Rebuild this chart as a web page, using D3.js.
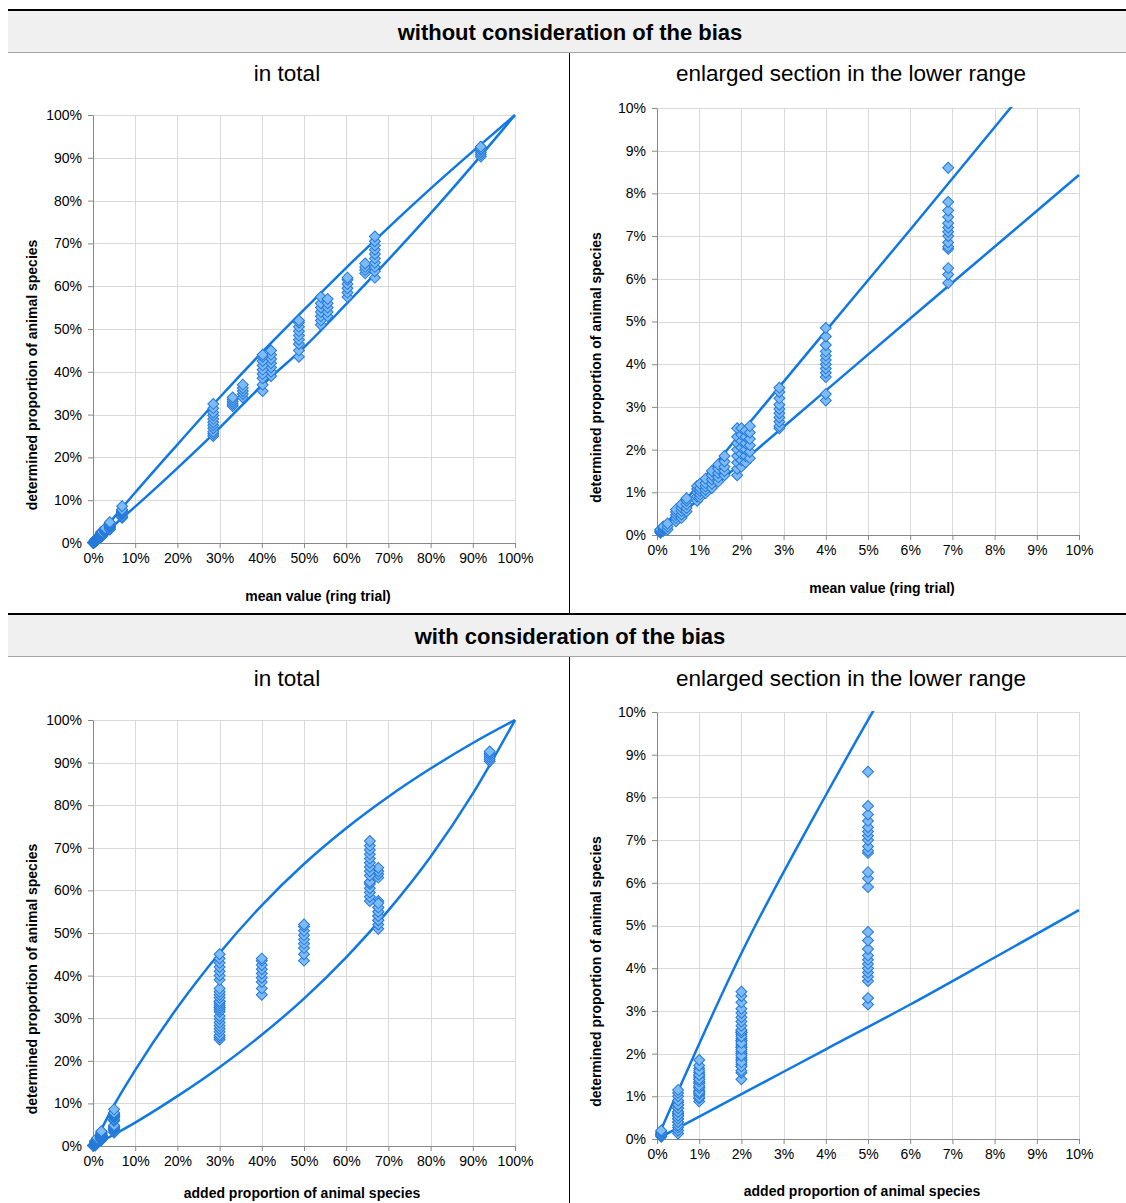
<!DOCTYPE html>
<html>
<head>
<meta charset="utf-8">
<script src="https://cdn.jsdelivr.net/npm/d3@7"></script>
<style>
  body { margin: 0; background: #fff; font-family: "Liberation Sans", Arial, sans-serif; }
  svg { display: block; }
</style>
</head>
<body>
<svg id="chart" width="1126" height="1203"></svg>
<script>
// ---------------------------
// Data (percent values)
// ---------------------------

// one entry per sample: added share, ring-trial mean, determined shares
const sampleAdded = [0.1, 0.1, 0.5, 0.5, 0.5, 0.5, 0.5, 1, 1, 1, 1, 1, 2, 2, 2, 2, 2, 5, 5,
  30, 30, 30, 30, 40, 50, 67.6, 67.6, 65.6, 67.6, 65.6, 94];
const sampleMean = [0.08, 0.15, 0.25, 0.45, 0.58, 0.7, 0.95, 1.02, 1.15, 1.3, 1.45, 1.6, 1.9, 2.0, 2.1, 2.2, 2.9, 4.0, 6.9,
  28.5, 33.1, 35.5, 42.2, 40.2, 48.8, 54.0, 55.6, 60.3, 64.5, 66.8, 91.9];
const sampleFound = [
  [0.05, 0.07, 0.09, 0.11, 0.13],
  [0.1, 0.14, 0.17, 0.2],
  [0.13, 0.2, 0.27],
  [0.32, 0.4, 0.47, 0.54, 0.6],
  [0.4, 0.48, 0.56, 0.64, 0.72],
  [0.55, 0.63, 0.72, 0.8, 0.86],
  [0.8, 0.9, 1.0, 1.08, 1.15],
  [0.88, 0.95, 1.03, 1.1, 1.2],
  [0.98, 1.06, 1.14, 1.22, 1.32],
  [1.1, 1.2, 1.3, 1.4, 1.5],
  [1.25, 1.35, 1.45, 1.55, 1.65],
  [1.4, 1.5, 1.6, 1.72, 1.85],
  [1.4, 1.55, 1.7, 1.85, 2.0, 2.15, 2.3, 2.5],
  [1.6, 1.75, 1.9, 2.05, 2.2, 2.35, 2.5],
  [1.7, 1.85, 2.0, 2.15, 2.3, 2.45],
  [1.8, 1.95, 2.1, 2.25, 2.4, 2.55],
  [2.5, 2.55, 2.65, 2.75, 2.85, 2.95, 3.05, 3.2, 3.35, 3.45],
  [3.15, 3.3, 3.7, 3.8, 3.9, 4.0, 4.1, 4.2, 4.3, 4.45, 4.65, 4.85],
  [5.9, 6.1, 6.25, 6.7, 6.75, 6.85, 7.0, 7.1, 7.2, 7.3, 7.45, 7.6, 7.8, 8.6],
  [25, 25.5, 26, 26.8, 27.5, 28.2, 29, 29.8, 30.5, 31.5, 32.5],
  [32, 32.5, 33, 33.5, 34],
  [34, 34.8, 35.5, 36.2, 37],
  [39, 40, 41, 42, 43, 44, 45],
  [35.5, 37, 38.5, 39.5, 40.5, 41.5, 42.5, 43.5, 44],
  [43.5, 45, 46.5, 47.5, 48.5, 49.5, 50.5, 51.5, 52],
  [51, 52, 53, 54, 55, 56, 57.5],
  [53, 54, 55, 56, 57],
  [57.5, 58.5, 59.5, 60.5, 61.5, 62],
  [63, 63.8, 64.5, 65.3],
  [62, 63.5, 64.5, 65.5, 66.5, 67.5, 68.5, 69.5, 70.5, 71.6],
  [90.3, 90.8, 91.3, 91.8, 92.2, 92.6]
];

// tolerance bounds (upper / lower curve), full range
const boundXTotal = [0, 5, 10, 20, 30, 40, 50, 60, 70, 80, 90, 100];
const upperNoBias = [0, 6, 11.8, 23, 34, 44.5, 54.5, 64.3, 73.7, 82.8, 91.5, 100];
const lowerNoBias = [0, 4.2, 8.5, 17.5, 26.9, 36.8, 45.7, 55.8, 66.2, 77, 88.3, 100];
const upperBias = [0, 9.6, 17.8, 32.5, 45.3, 56.5, 66.2, 74.6, 82, 88.6, 94.6, 100];
const lowerBias = [0, 2.7, 5.5, 11.7, 18.5, 26.1, 34.6, 44.3, 55.3, 67.9, 82.7, 100];

// tolerance bounds, lower range
const boundXZoom = [0, 2, 4, 6, 8, 10];
const upperNoBiasZoom = [0, 2.4, 4.78, 7.15, 9.55, 11.95];
const lowerNoBiasZoom = [0, 1.69, 3.38, 5.07, 6.75, 8.43];
const upperBiasZoom = [0, 4.35, 8.05, 11.5, 14.6, 17.3];
const lowerBiasZoom = [0, 1.05, 2.1, 3.15, 4.25, 5.36];

const ticksTotal = [0, 10, 20, 30, 40, 50, 60, 70, 80, 90, 100];
const ticksZoom = [0, 1, 2, 3, 4, 5, 6, 7, 8, 9, 10];

// ---------------------------
// Styling
// ---------------------------
const LINE_COLOR = "#0f78e4";
const MARK_FILL = "#7cbaf8";
const MARK_STROKE = "#2479d8";
const GRID_COLOR = "#d9d9d9";
const AXIS_COLOR = "#888";

const svg = d3.select("#chart");

const points = sampleFound.flatMap((vals, i) =>
  vals.map(v => ({ added: sampleAdded[i], mean: sampleMean[i], found: v })));

const panels = [
  { x0: 93, x1: 515, y0: 543, y1: 115, max: 100, ticks: ticksTotal, xKey: "mean",
    bx: boundXTotal, upper: upperNoBias, lower: lowerNoBias,
    sub: "in total", subX: 287, subY: 81,
    xTitle: "mean value (ring trial)", xtX: 318, xtY: 601, ytX: 37 },
  { x0: 657, x1: 1079, y0: 535, y1: 108, max: 10, ticks: ticksZoom, xKey: "mean",
    bx: boundXZoom, upper: upperNoBiasZoom, lower: lowerNoBiasZoom,
    sub: "enlarged section in the lower range", subX: 851, subY: 81,
    xTitle: "mean value (ring trial)", xtX: 882, xtY: 593, ytX: 601 },
  { x0: 93, x1: 515, y0: 1146, y1: 720, max: 100, ticks: ticksTotal, xKey: "added",
    bx: boundXTotal, upper: upperBias, lower: lowerBias,
    sub: "in total", subX: 287, subY: 686,
    xTitle: "added proportion of animal species", xtX: 302, xtY: 1198, ytX: 37 },
  { x0: 657, x1: 1079, y0: 1139, y1: 712, max: 10, ticks: ticksZoom, xKey: "added",
    bx: boundXZoom, upper: upperBiasZoom, lower: lowerBiasZoom,
    sub: "enlarged section in the lower range", subX: 851, subY: 686,
    xTitle: "added proportion of animal species", xtX: 862, xtY: 1196, ytX: 601 }
];

// ---------------------------
// Section frames
// ---------------------------
function drawSection(top, title, bottom) {
  svg.append("rect")
    .attr("x", 8).attr("y", top + 1).attr("width", 1118).attr("height", 41)
    .attr("fill", "#f0f0f0");
  svg.append("line")
    .attr("x1", 8).attr("x2", 1126).attr("y1", top).attr("y2", top)
    .attr("stroke", "#000").attr("stroke-width", 2);
  svg.append("line")
    .attr("x1", 8).attr("x2", 1126).attr("y1", top + 42.5).attr("y2", top + 42.5)
    .attr("stroke", "#a6a6a6").attr("stroke-width", 1);
  svg.append("line")
    .attr("x1", 569.5).attr("x2", 569.5).attr("y1", top + 43).attr("y2", bottom)
    .attr("stroke", "#000").attr("stroke-width", 1);
  svg.append("text")
    .attr("x", 570).attr("y", top + 30)
    .attr("text-anchor", "middle")
    .style("font-size", "22px").style("font-weight", "bold")
    .text(title);
}

drawSection(10, "without consideration of the bias", 613);
drawSection(614, "with consideration of the bias", 1203);

// ---------------------------
// Panels
// ---------------------------
panels.forEach((p, idx) => {
  const x = d3.scaleLinear().domain([0, p.max]).range([p.x0, p.x1]);
  const y = d3.scaleLinear().domain([0, p.max]).range([p.y0, p.y1]);
  const g = svg.append("g");

  // grid
  g.append("g").selectAll("line")
    .data(p.ticks.slice(1))
    .join("line")
    .attr("x1", d => Math.round(x(d)) + 0.5).attr("x2", d => Math.round(x(d)) + 0.5)
    .attr("y1", p.y0).attr("y2", p.y1)
    .attr("stroke", GRID_COLOR);
  g.append("g").selectAll("line")
    .data(p.ticks.slice(1))
    .join("line")
    .attr("x1", p.x0).attr("x2", p.x1)
    .attr("y1", d => Math.round(y(d)) + 0.5).attr("y2", d => Math.round(y(d)) + 0.5)
    .attr("stroke", GRID_COLOR);

  // axes
  const fmt = d => d + "%";
  const xAxis = g.append("g")
    .attr("transform", `translate(0,${p.y0})`)
    .call(d3.axisBottom(x).tickValues(p.ticks).tickFormat(fmt).tickSize(5).tickPadding(5).tickSizeOuter(0));
  const yAxis = g.append("g")
    .attr("transform", `translate(${p.x0},0)`)
    .call(d3.axisLeft(y).tickValues(p.ticks).tickFormat(fmt).tickSize(5).tickPadding(6).tickSizeOuter(0));
  [xAxis, yAxis].forEach(a => {
    a.select(".domain").attr("stroke", AXIS_COLOR);
    a.selectAll(".tick line").attr("stroke", AXIS_COLOR);
    a.selectAll(".tick text")
      .attr("fill", "#000")
      .style("font-family", "'Liberation Sans', Arial, sans-serif")
      .style("font-size", "14px");
  });

  // bound curves
  const clipId = "clip" + idx;
  svg.append("clipPath").attr("id", clipId)
    .append("rect")
    .attr("x", p.x0).attr("y", p.y1 - 1)
    .attr("width", p.x1 - p.x0 + 3).attr("height", p.y0 - p.y1 + 1);

  const line = d3.line()
    .x((d, i) => x(p.bx[i]))
    .y(d => y(d))
    .curve(d3.curveMonotoneX);

  g.append("g").attr("clip-path", `url(#${clipId})`)
    .selectAll("path")
    .data([p.upper, p.lower])
    .join("path")
    .attr("d", line)
    .attr("fill", "none")
    .attr("stroke", LINE_COLOR)
    .attr("stroke-width", 2.5);

  // markers
  const pts = points.filter(d => d[p.xKey] <= p.max && d.found <= p.max);
  g.append("g").selectAll("path")
    .data(pts)
    .join("path")
    .attr("d", d3.symbol(d3.symbolSquare, 60))
    .attr("transform", d => `translate(${x(d[p.xKey])},${y(d.found)}) rotate(45)`)
    .attr("fill", MARK_FILL)
    .attr("stroke", MARK_STROKE)
    .attr("stroke-width", 1);

  // titles
  g.append("text")
    .attr("x", p.subX).attr("y", p.subY)
    .attr("text-anchor", "middle")
    .style("font-size", "22.5px")
    .text(p.sub);

  g.append("text")
    .attr("x", p.xtX).attr("y", p.xtY)
    .attr("text-anchor", "middle")
    .style("font-size", "14px").style("font-weight", "bold")
    .text(p.xTitle);

  const ytY = (p.y0 + p.y1) / 2 + 46;
  g.append("text")
    .attr("transform", `translate(${p.ytX},${ytY}) rotate(-90)`)
    .attr("text-anchor", "middle")
    .style("font-size", "14px").style("font-weight", "bold")
    .text("determined proportion of animal species");
});
</script>
</body>
</html>
